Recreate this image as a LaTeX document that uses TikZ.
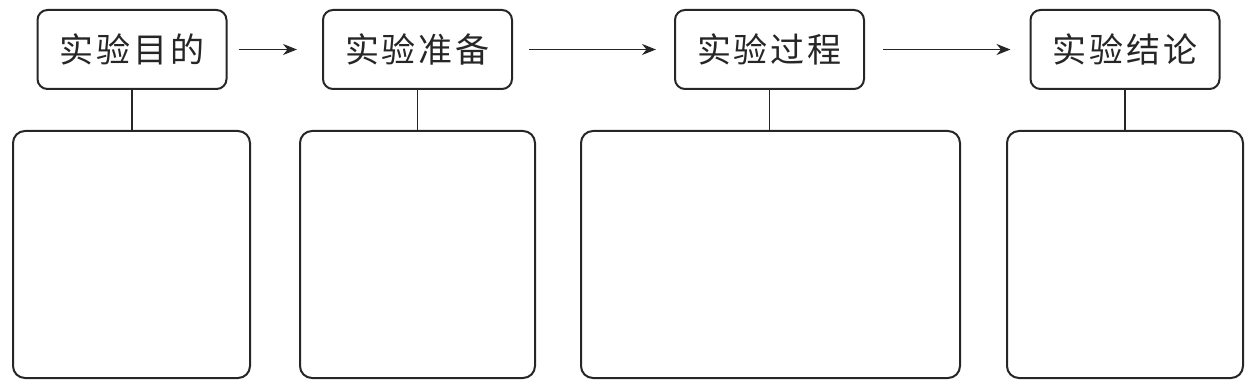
\documentclass[tikz,border=0pt]{standalone}
\usepackage{fontspec}
\newfontfamily\cjk{Noto Sans CJK SC}
\usetikzlibrary{arrows.meta}
\newcommand\gapk{\kern3pt}
\begin{document}
\begin{tikzpicture}[x=1pt,y=-1pt,
  titlebox/.style={draw=black!85,line width=2pt,rounded corners=10pt,minimum width=189pt,minimum height=79pt,inner sep=0pt,font=\cjk\fontsize{34}{34}\selectfont,text=black!85},
  bigbox/.style={draw=black!85,line width=2pt,rounded corners=12pt,minimum height=247pt,inner sep=0pt},
  flow/.style={draw=black!85,line width=1.8pt,-{Stealth[length=14pt,width=11pt]}},
  link/.style={draw=black!85,line width=1.8pt}]
\useasboundingbox (0,0) rectangle (1254,385);
\node[titlebox] (t1) at (132,49.5) {实\gapk 验\gapk 目\gapk 的};
\node[titlebox] (t2) at (417.5,49.5) {实\gapk 验\gapk 准\gapk 备};
\node[titlebox] (t3) at (769.5,49.5) {实\gapk 验\gapk 过\gapk 程};
\node[titlebox] (t4) at (1125,49.5) {实\gapk 验\gapk 结\gapk 论};
\node[bigbox,minimum width=237pt] (b1) at (131.5,254.5) {};
\node[bigbox,minimum width=235pt] (b2) at (417.5,254.5) {};
\node[bigbox,minimum width=379pt] (b3) at (770.5,254.5) {};
\node[bigbox,minimum width=236pt] (b4) at (1125,254.5) {};
\draw[link] (t1.south) -- (t1.south |- b1.north);
\draw[link] (t2.south) -- (t2.south |- b2.north);
\draw[link] (t3.south) -- (t3.south |- b3.north);
\draw[link] (t4.south) -- (t4.south |- b4.north);
\draw[flow,shorten <=11pt,shorten >=25pt] (t1.east) -- (t2.west);
\draw[flow,shorten <=16pt,shorten >=18pt] (t2.east) -- (t3.west);
\draw[flow,shorten <=18pt,shorten >=19pt] (t3.east) -- (t4.west);
\end{tikzpicture}
\end{document}
